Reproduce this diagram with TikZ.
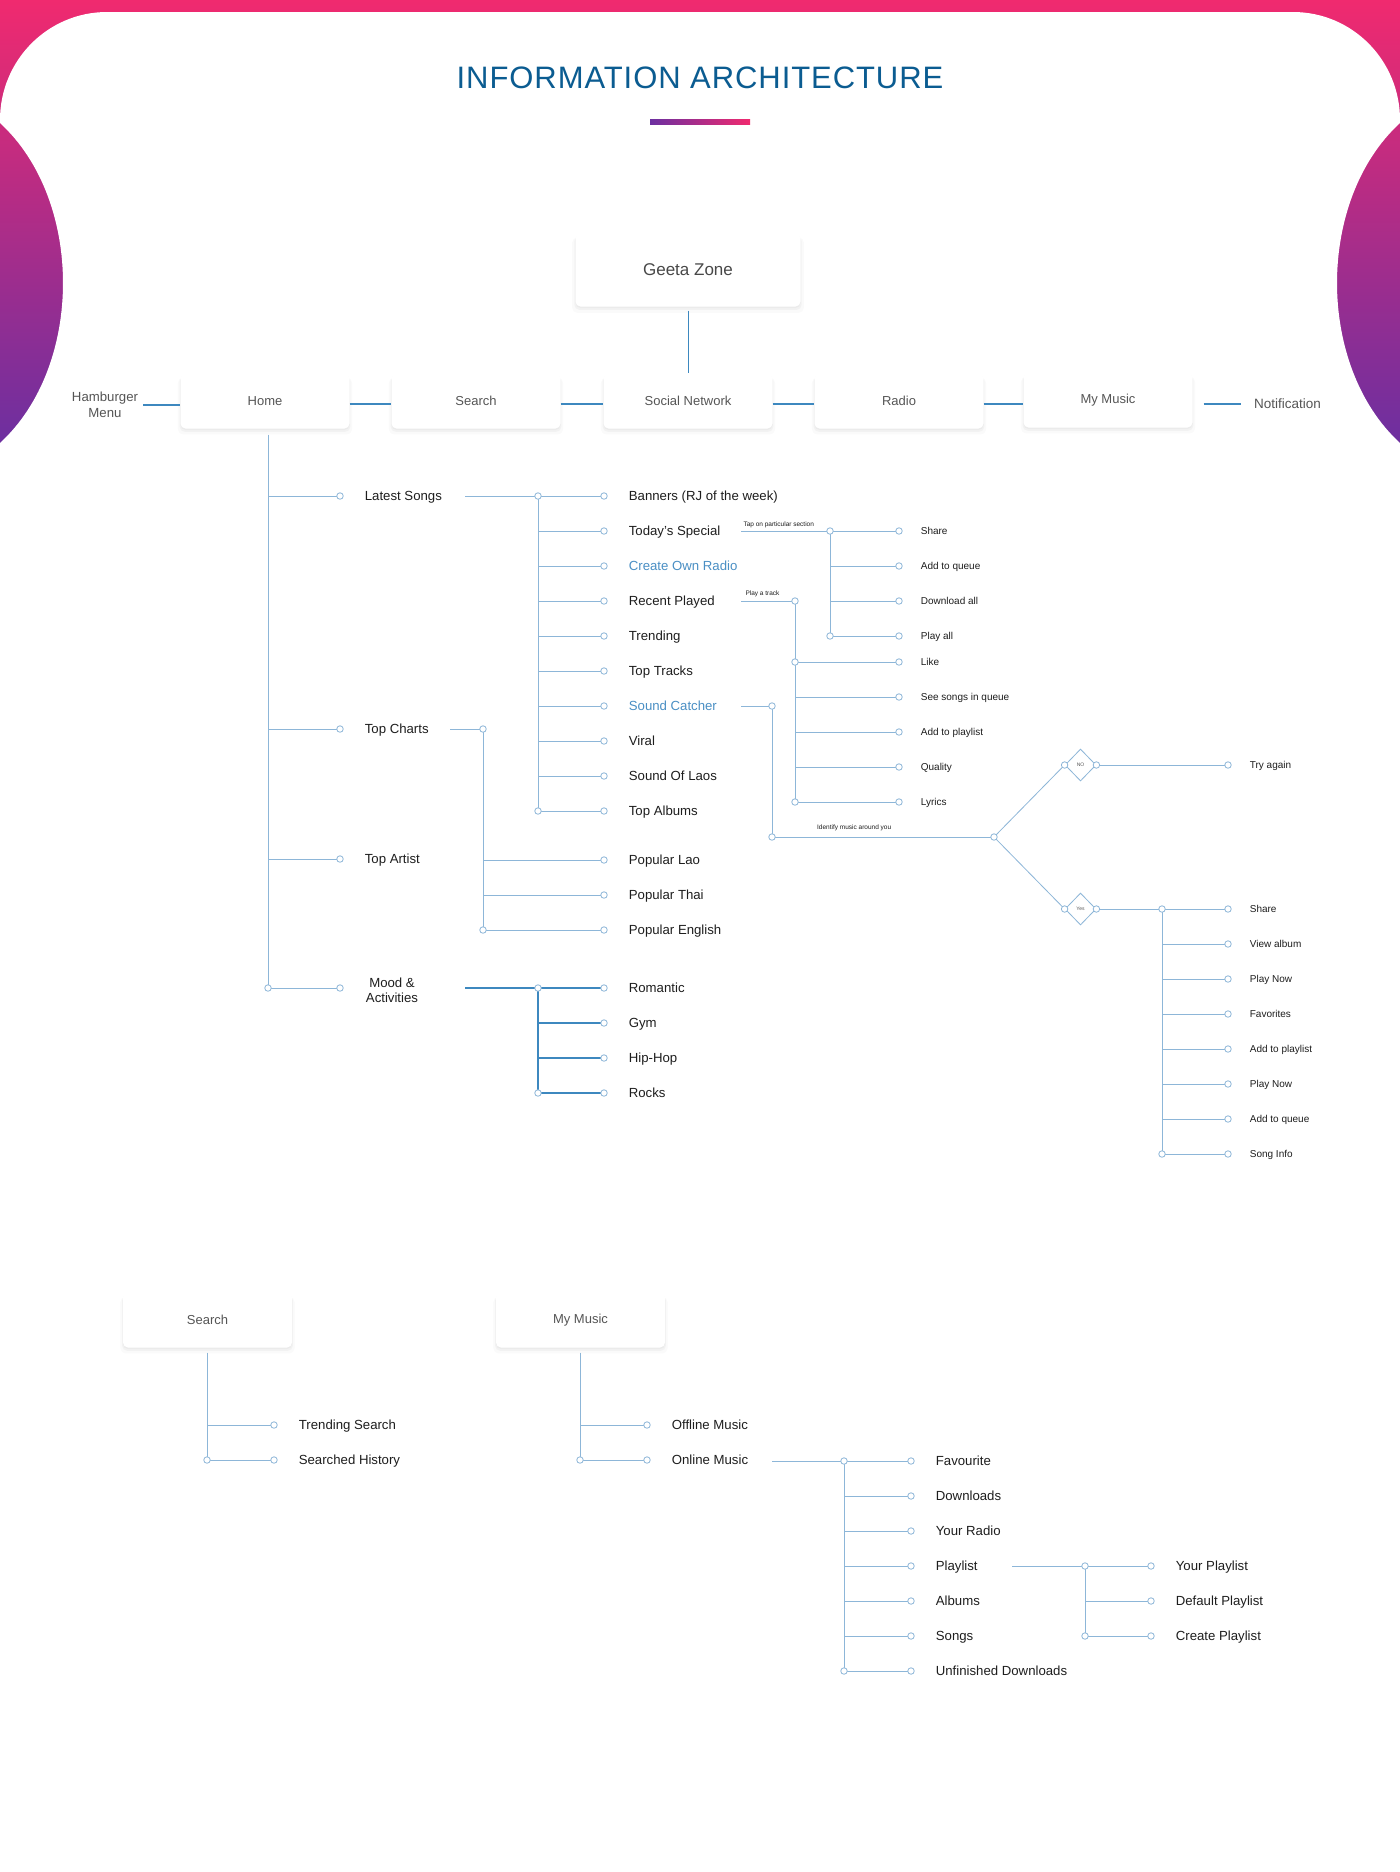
\documentclass[tikz,border=0pt]{standalone}
\usepackage{fontspec}
\setmainfont{Liberation Sans}
\newfontfamily\titlefont{Liberation Sans}[LetterSpace=3]
\usetikzlibrary{positioning,shapes.geometric,shadows}

\definecolor{iablue}{HTML}{0B5C91}
\definecolor{linelight}{HTML}{8DB6D8}
\definecolor{linemain}{HTML}{3D88BF}
\definecolor{txtdark}{HTML}{1E1E1E}
\definecolor{txtgray}{HTML}{555555}
\definecolor{hilite}{HTML}{4A8FC4}
\definecolor{bgpink}{HTML}{F02A6F}
\definecolor{bgpurple}{HTML}{6C2FA0}

\pgfdeclarelayer{paper}
\pgfdeclarelayer{wires}
\pgfsetlayers{paper,wires,main}

\tikzset{
  box/.style={rectangle, rounded corners=5pt, fill=white, minimum width=169pt, minimum height=55pt,
    text=txtgray, font=\fontsize{13}{15}\selectfont,
    drop shadow={shadow xshift=0pt, shadow yshift=-5pt, shadow scale=1.03, opacity=0.04},
    drop shadow={shadow xshift=0pt, shadow yshift=-3pt, shadow scale=1.01, opacity=0.06},
    drop shadow={shadow xshift=0pt, shadow yshift=-1.5pt, opacity=0.06}},
  dot/.style={circle, draw=linelight, fill=white, line width=0.8pt, inner sep=0pt, minimum size=6.5pt},
  link/.style={draw=linelight, line width=1pt},
  mainlink/.style={draw=linemain, line width=1.6pt},
  item/.style={text=txtdark, font=\fontsize{13.2}{15}\selectfont, inner sep=0pt,
    text height=10pt, text depth=2pt, node distance=21pt},
  small/.style={text=txtdark, font=\fontsize{10}{12}\selectfont, inner sep=0pt,
    text height=7.5pt, text depth=1.5pt, node distance=18pt},
  tiny/.style={text=txtdark, font=\fontsize{6.5}{7}\selectfont, inner sep=0pt},
  choice/.style={diamond, draw=linelight, line width=0.8pt, fill=white, inner sep=0pt,
    minimum width=31pt, minimum height=32pt, font=\fontsize{5}{6}\selectfont, text=txtgray},
}

\begin{document}
\begin{tikzpicture}[x=1pt, y=-1pt]
  \useasboundingbox (0,0) rectangle (1400,1872);

  % page background
  \begin{pgfonlayer}{paper}
    \fill[white] (0,0) rectangle (1400,1872);
    \fill[top color=bgpink, bottom color=bgpurple] (0,0) rectangle (1400,445);
    \fill[white] (0,120) .. controls (0,60) and (48,12) .. (107,12) -- (1293,12)
      .. controls (1352,12) and (1400,60) .. (1400,120) -- (1400,123)
      .. controls (1316,200) and (1316,366) .. (1400,443) -- (1400,450) -- (0,450) -- (0,443)
      .. controls (84,366) and (84,200) .. (0,123) -- cycle;
  \end{pgfonlayer}

  \node[font=\titlefont\fontsize{31}{36}\selectfont, text=iablue] (title) at (700,78) {INFORMATION ARCHITECTURE};
  \node[minimum width=100pt, minimum height=5pt, inner sep=0pt, left color=bgpurple, right color=bgpink] (rule) at (700,121.5) {};

  % main menu
  \node[box, font=\fontsize{17}{20}\selectfont, text=txtgray!85!black, minimum width=225pt, minimum height=73pt] (geeta) at (688,270) {Geeta Zone};
  \node[box] (home) at (265,401) {Home};
  \node[box] (search) at (476,401) {Search};
  \node[box] (social) at (688,401) {Social Network};
  \node[box] (radio) at (899,401) {Radio};
  \node[box] (mymusic) at (1108,400) {My Music};
  \node[text=txtgray, font=\fontsize{13.2}{16}\selectfont, align=center, inner sep=0pt] (ham) at (105,405) {Hamburger\\Menu};
  \node[text=txtgray, font=\fontsize{13.5}{16}\selectfont, inner sep=0pt, anchor=west] (notif) at (1254,404) {Notification};

  \draw[linemain, line width=0.8pt] ([yshift=-4pt]geeta.south) -- (social.north);
  \draw[mainlink] ([xshift=5pt]ham.east) -- (ham.east -| home.west);
  \foreach \a/\b in {home/search, search/social, social/radio, radio/mymusic}
    \draw[mainlink] ([yshift=-3pt]\a.east) -- ([yshift=-3pt]\a.east -| \b.west);
  \draw[mainlink] ([xshift=11pt,yshift=-4pt]mymusic.east) -- ([xshift=-13pt]notif.west);

  % home
  \node[dot] (hmEnd) at (268,988) {};
  \begin{pgfonlayer}{wires}
    \draw[link] ([yshift=-6pt]hmEnd |- home.south) -- (hmEnd.center);
  \end{pgfonlayer}
  \foreach \n/\y/\t in {latest/496/Latest Songs, charts/729/Top Charts, artist/859/Top Artist, mood/988/{}} {
    \node[dot] (\n) at (340,\y) {};
    \node[item, right=of \n] (\n-t) {\t};
    \begin{pgfonlayer}{wires}
      \draw[link] (hmEnd |- \n) -- (\n.center);
    \end{pgfonlayer}
  }
  \node[text=txtdark, font=\fontsize{13.2}{15}\selectfont, align=center, inner sep=0pt] (mood-tt) at (392,990) {Mood \&\\Activities};

  % latest songs
  \node[dot] (lsTop) at (538,496) {};
  \node[dot] (lsEnd) at (538,811) {};
  \foreach \t/\c [count=\i, evaluate=\i as \y using 461+35*\i] in {Banners (RJ of the week)/txtdark,
      Today's Special/txtdark, Create Own Radio/hilite, Recent Played/txtdark, Trending/txtdark,
      Top Tracks/txtdark, Sound Catcher/hilite, Viral/txtdark, Sound Of Laos/txtdark, Top Albums/txtdark} {
    \node[dot] (ls\i) at (604,\y) {};
    \node[item, text=\c, right=of ls\i] (ls\i-t) {\t};
    \begin{pgfonlayer}{wires}
      \draw[link] (lsTop |- ls\i) -- (ls\i.center);
    \end{pgfonlayer}
  }
  \begin{pgfonlayer}{wires}
    \draw[link] ([xshift=-73pt]lsTop.center) -- (lsTop.center) -- (lsEnd.center);
  \end{pgfonlayer}

  % top charts
  \node[dot] (tcTop) at (483,729) {};
  \node[dot] (tcEnd) at (483,930) {};
  \foreach \t [count=\i, evaluate=\i as \y using 825+35*\i] in {Popular Lao, Popular Thai, Popular English} {
    \node[dot] (pc\i) at (604,\y) {};
    \node[item, right=of pc\i] (pc\i-t) {\t};
    \begin{pgfonlayer}{wires}
      \draw[link] (tcTop |- pc\i) -- (pc\i.center);
    \end{pgfonlayer}
  }
  \begin{pgfonlayer}{wires}
    \draw[link] ([xshift=-33pt]tcTop.center) -- (tcTop.center) -- (tcEnd.center);
  \end{pgfonlayer}

  % mood & activities
  \node[dot] (mdTop) at (538,988) {};
  \node[dot] (mdEnd) at (538,1093) {};
  \foreach \t [count=\i, evaluate=\i as \y using 953+35*\i] in {Romantic, Gym, Hip-Hop, Rocks} {
    \node[dot] (md\i) at (604,\y) {};
    \node[item, right=of md\i] (md\i-t) {\t};
    \begin{pgfonlayer}{wires}
      \draw[link, draw=linemain, line width=1.4pt] (mdTop |- md\i) -- (md\i.center);
    \end{pgfonlayer}
  }
  \begin{pgfonlayer}{wires}
    \draw[link, draw=linemain, line width=1.4pt] ([xshift=-73pt]mdTop.center) -- (mdTop.center) -- (mdEnd.center);
  \end{pgfonlayer}

  % today's special
  \node[dot] (tsTop) at (830,531) {};
  \node[dot] (tsEnd) at (830,636) {};
  \foreach \t [count=\i, evaluate=\i as \y using 496+35*\i] in {Share, Add to queue, Download all, Play all} {
    \node[dot] (ts\i) at (899,\y) {};
    \node[small, right=of ts\i] (ts\i-t) {\t};
    \begin{pgfonlayer}{wires}
      \draw[link] (tsTop |- ts\i) -- (ts\i.center);
    \end{pgfonlayer}
  }
  \begin{pgfonlayer}{wires}
    \draw[link] ([xshift=-89pt]tsTop.center) -- node[tiny, pos=0, anchor=base west, xshift=2pt, yshift=5pt] (tapLbl) {Tap on particular section} (tsTop.center) -- (tsEnd.center);
  \end{pgfonlayer}

  % recent played
  \node[dot] (rpTop) at (795,601) {};
  \node[dot] (rpLike) at (795,662) {};
  \node[dot] (rpEnd) at (795,802) {};
  \foreach \t [count=\i, evaluate=\i as \y using 627+35*\i] in {Like, See songs in queue, Add to playlist, Quality, Lyrics} {
    \node[dot] (rp\i) at (899,\y) {};
    \node[small, right=of rp\i] (rp\i-t) {\t};
    \begin{pgfonlayer}{wires}
      \draw[link] (rpTop |- rp\i) -- (rp\i.center);
    \end{pgfonlayer}
  }
  \begin{pgfonlayer}{wires}
    \draw[link] ([xshift=-54pt]rpTop.center) -- node[tiny, pos=0, anchor=base west, xshift=4pt, yshift=6pt] (playLbl) {Play a track} (rpTop.center) -- (rpEnd.center);
  \end{pgfonlayer}

  % sound catcher
  \node[dot] (scTop) at (772,706) {};
  \node[dot] (scEnd) at (772,837) {};
  \node[dot] (scFork) at (994,837) {};
  \node[choice] (no) at (1080.5,765) {NO};
  \node[choice] (yes) at (1080.5,909) {Yes};
  \node[dot] (noIn) at (no.west) {};
  \node[dot] (noOut) at (no.east) {};
  \node[dot] (yesIn) at (yes.west) {};
  \node[dot] (yesOut) at (yes.east) {};
  \node[dot] (again) at (1228,765) {};
  \node[small, right=of again] (again-t) {Try again};
  \begin{pgfonlayer}{wires}
    \draw[link] ([xshift=-31pt]scTop.center) -- (scTop.center) -- (scEnd.center)
      -- node[tiny, pos=0.37, anchor=base, yshift=8pt] (idLbl) {Identify music around you} (scFork.center);
    \draw[link, line width=0.8pt] (scFork.center) -- (noIn.center);
    \draw[link, line width=0.8pt] (scFork.center) -- (yesIn.center);
    \draw[link] (noOut.center) -- (again.center);
  \end{pgfonlayer}

  % found a match
  \node[dot] (ysTop) at (1162,909) {};
  \node[dot] (ysEnd) at (1162,1154) {};
  \foreach \t [count=\i, evaluate=\i as \y using 874+35*\i] in {Share, View album, Play Now, Favorites,
      Add to playlist, Play Now, Add to queue, Song Info} {
    \node[dot] (ys\i) at (1228,\y) {};
    \node[small, right=of ys\i] (ys\i-t) {\t};
    \begin{pgfonlayer}{wires}
      \draw[link] (ysTop |- ys\i) -- (ys\i.center);
    \end{pgfonlayer}
  }
  \begin{pgfonlayer}{wires}
    \draw[link] (yesOut.center) -- (ysTop.center) -- (ysEnd.center);
  \end{pgfonlayer}

  % search screen
  \node[box] (search2) at (207.5,1320) {Search};
  \node[dot] (srEnd) at (207,1460) {};
  \foreach \t [count=\i, evaluate=\i as \y using 1390+35*\i] in {Trending Search, Searched History} {
    \node[dot] (sr\i) at (274,\y) {};
    \node[item, right=of sr\i] (sr\i-t) {\t};
    \begin{pgfonlayer}{wires}
      \draw[link] (srEnd |- sr\i) -- (sr\i.center);
    \end{pgfonlayer}
  }
  \begin{pgfonlayer}{wires}
    \draw[link] ([yshift=-5pt]srEnd |- search2.south) -- (srEnd.center);
  \end{pgfonlayer}

  % my music screen
  \node[box] (mymusic2) at (580.5,1320) {My Music};
  \node[dot] (mmEnd) at (580,1460) {};
  \foreach \t [count=\i, evaluate=\i as \y using 1390+35*\i] in {Offline Music, Online Music} {
    \node[dot] (mm\i) at (647,\y) {};
    \node[item, right=of mm\i] (mm\i-t) {\t};
    \begin{pgfonlayer}{wires}
      \draw[link] (mmEnd |- mm\i) -- (mm\i.center);
    \end{pgfonlayer}
  }
  \begin{pgfonlayer}{wires}
    \draw[link] ([yshift=-5pt]mmEnd |- mymusic2.south) -- (mmEnd.center);
  \end{pgfonlayer}

  % online music
  \node[dot] (omTop) at (844,1461) {};
  \node[dot] (omEnd) at (844,1671) {};
  \foreach \t [count=\i, evaluate=\i as \y using 1426+35*\i] in {Favourite, Downloads, Your Radio, Playlist,
      Albums, Songs, Unfinished Downloads} {
    \node[dot] (om\i) at (911,\y) {};
    \node[item, right=of om\i] (om\i-t) {\t};
    \begin{pgfonlayer}{wires}
      \draw[link] (omTop |- om\i) -- (om\i.center);
    \end{pgfonlayer}
  }
  \begin{pgfonlayer}{wires}
    \draw[link] ([xshift=-72pt]omTop.center) -- (omTop.center) -- (omEnd.center);
  \end{pgfonlayer}

  % playlist
  \node[dot] (plTop) at (1085,1566) {};
  \node[dot] (plEnd) at (1085,1636) {};
  \foreach \t [count=\i, evaluate=\i as \y using 1531+35*\i] in {Your Playlist, Default Playlist, Create Playlist} {
    \node[dot] (pl\i) at (1151,\y) {};
    \node[item, right=of pl\i] (pl\i-t) {\t};
    \begin{pgfonlayer}{wires}
      \draw[link] (plTop |- pl\i) -- (pl\i.center);
    \end{pgfonlayer}
  }
  \begin{pgfonlayer}{wires}
    \draw[link] ([xshift=-73pt]plTop.center) -- (plTop.center) -- (plEnd.center);
  \end{pgfonlayer}
\end{tikzpicture}
\end{document}
